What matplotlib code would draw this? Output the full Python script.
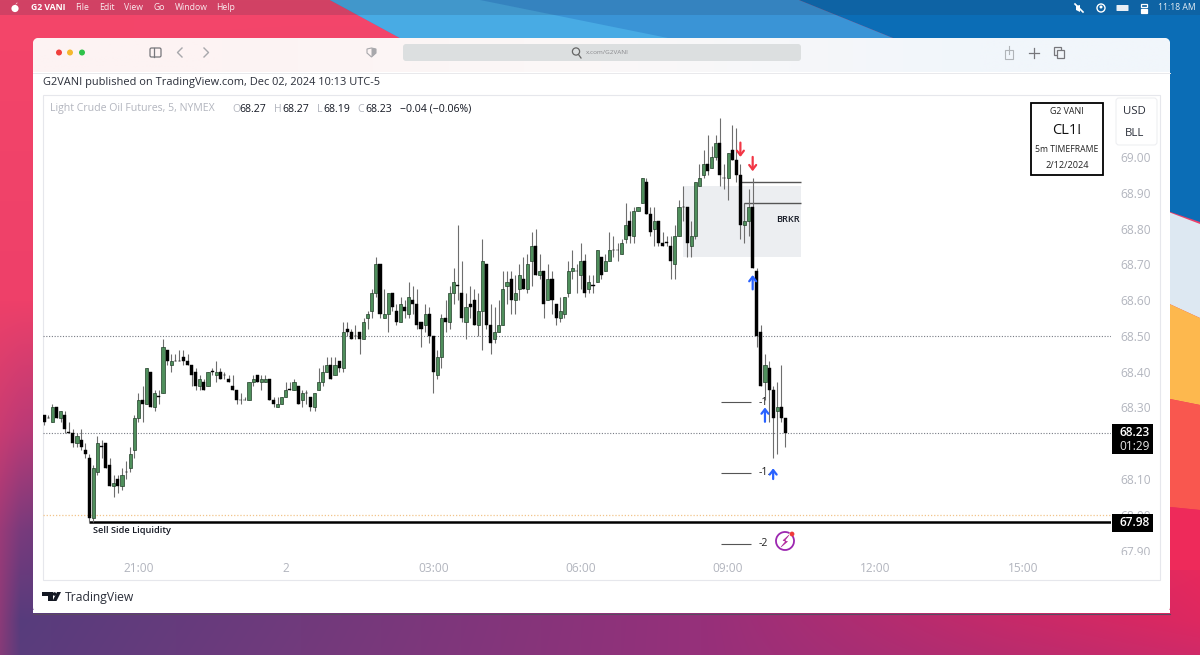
import numpy as np
import matplotlib
matplotlib.use('Agg')
import matplotlib.pyplot as plt
from matplotlib.patches import Rectangle, FancyBboxPatch, Circle, Polygon, Arc
from matplotlib.transforms import Bbox

plt.rcParams['font.family'] = ['Open Sans', 'DejaVu Sans']

# 1. Chart data, 5 minute candles
opens = [68.28,68.27,68.26,68.30,68.27,68.28,68.23,68.23,68.20,68.21,
         68.18,68.16,67.99,68.12,68.19,68.20,68.14,68.08,68.10,68.08,
         68.12,68.13,68.18,68.27,68.32,68.31,68.40,68.30,68.33,68.34,
         68.46,68.42,68.43,68.43,68.44,68.43,68.42,68.40,68.36,68.37,
         68.36,68.40,68.39,68.40,68.39,68.38,68.36,68.35,68.32,68.32,
         68.32,68.37,68.39,68.37,68.37,68.38,68.32,68.30,68.31,68.33,
         68.35,68.35,68.36,68.32,68.34,68.33,68.30,68.35,68.37,68.40,
         68.42,68.39,68.43,68.41,68.52,68.51,68.50,68.51,68.49,68.55,
         68.57,68.62,68.70,68.55,68.56,68.62,68.57,68.54,68.58,68.56,
         68.60,68.59,68.54,68.53,68.56,68.50,68.39,68.44,68.55,68.54,
         68.62,68.64,68.62,68.54,68.59,68.60,68.53,68.57,68.70,68.53,
         68.49,68.51,68.53,68.64,68.66,68.60,68.63,68.66,68.63,68.71,
         68.75,68.67,68.68,68.60,68.66,68.59,68.55,68.56,68.62,68.68,
         68.68,68.67,68.71,68.63,68.64,68.65,68.72,68.68,68.71,68.74,
         68.74,68.73,68.77,68.82,68.78,68.85,68.87,68.93,68.84,68.80,
         68.82,68.76,68.76,68.75,68.70,68.78,68.86,68.86,68.75,68.78,
         68.92,68.95,68.98,68.97,69.00,69.04,68.94,68.94,69.02,68.99,
         68.95,68.81,68.82,68.86,68.68,68.51,68.37,68.41,68.35,68.29,68.30,68.27]
highs = [68.28,68.28,68.31,68.30,68.29,68.29,68.26,68.24,68.23,68.24,
         68.20,68.17,68.14,68.22,68.21,68.20,68.16,68.11,68.11,68.13,
         68.15,68.19,68.28,68.34,68.36,68.41,68.40,68.35,68.35,68.49,
         68.46,68.45,68.45,68.46,68.46,68.45,68.42,68.41,68.39,68.38,
         68.40,68.41,68.43,68.41,68.40,68.39,68.39,68.35,68.34,68.33,
         68.37,68.39,68.39,68.39,68.39,68.38,68.33,68.33,68.33,68.37,
         68.37,68.38,68.36,68.35,68.35,68.33,68.34,68.41,68.42,68.44,
         68.44,68.44,68.43,68.54,68.54,68.52,68.53,68.51,68.55,68.57,
         68.63,68.72,68.70,68.63,68.62,68.62,68.59,68.61,68.60,68.65,
         68.64,68.63,68.54,68.59,68.58,68.50,68.46,68.56,68.60,68.64,
         68.69,68.81,68.71,68.62,68.64,68.63,68.62,68.77,68.70,68.59,
         68.58,68.60,68.68,68.68,68.68,68.67,68.70,68.72,68.73,68.79,
         68.80,68.73,68.68,68.70,68.68,68.59,68.61,68.61,68.71,68.74,
         68.70,68.76,68.73,68.67,68.67,68.74,68.72,68.73,68.79,68.78,
         68.76,68.77,68.87,68.85,68.86,68.86,68.94,68.94,68.86,68.86,
         68.82,68.79,68.78,68.78,68.81,68.88,68.92,68.86,68.82,68.93,
         68.98,69.02,69.06,69.03,69.06,69.11,68.98,69.01,69.09,69.08,
         68.98,68.87,68.91,68.94,68.69,68.53,68.45,68.43,68.36,68.37,68.42,68.27]
lows = [68.25,68.27,68.26,68.27,68.26,68.23,68.23,68.19,68.19,68.18,
        68.16,67.98,67.98,68.11,68.16,68.13,68.08,68.05,68.06,68.07,
        68.10,68.12,68.16,68.26,68.26,68.31,68.30,68.29,68.31,68.34,
        68.42,68.40,68.43,68.43,68.42,68.42,68.36,68.35,68.35,68.35,
        68.36,68.39,68.37,68.38,68.38,68.37,68.35,68.31,68.31,68.32,
        68.32,68.36,68.37,68.35,68.37,68.32,68.30,68.30,68.31,68.33,
        68.35,68.35,68.31,68.30,68.31,68.29,68.29,68.35,68.36,68.40,
        68.38,68.39,68.40,68.40,68.50,68.49,68.49,68.45,68.49,68.52,
        68.55,68.61,68.55,68.55,68.51,68.57,68.53,68.54,68.55,68.55,
        68.56,68.52,68.47,68.51,68.48,68.34,68.38,68.41,68.51,68.52,
        68.59,68.60,68.54,68.49,68.55,68.53,68.50,68.46,68.52,68.45,
        68.48,68.51,68.53,68.59,68.56,68.56,68.60,68.63,68.62,68.64,
        68.67,68.66,68.55,68.60,68.56,68.53,68.54,68.55,68.61,68.66,
        68.62,68.63,68.61,68.62,68.62,68.65,68.66,68.68,68.71,68.72,
        68.71,68.73,68.76,68.76,68.76,68.85,68.87,68.84,68.78,68.75,
        68.75,68.75,68.75,68.66,68.66,68.78,68.82,68.72,68.72,68.77,
        68.92,68.94,68.95,68.97,68.99,68.92,68.91,68.88,68.99,68.93,
        68.77,68.76,68.78,68.69,68.47,68.36,68.32,68.26,68.16,68.17,68.26,68.19]
closes = [68.26,68.27,68.30,68.27,68.29,68.24,68.23,68.20,68.22,68.19,
          68.17,67.99,68.13,68.20,68.19,68.13,68.08,68.09,68.08,68.11,
          68.12,68.17,68.27,68.32,68.31,68.41,68.30,68.34,68.33,68.47,
          68.43,68.43,68.43,68.43,68.43,68.42,68.39,68.36,68.38,68.35,
          68.40,68.40,68.40,68.38,68.39,68.37,68.35,68.32,68.32,68.32,
          68.37,68.38,68.37,68.38,68.38,68.32,68.31,68.31,68.33,68.35,
          68.35,68.37,68.31,68.34,68.34,68.30,68.34,68.37,68.40,68.42,
          68.38,68.42,68.41,68.51,68.51,68.49,68.50,68.49,68.54,68.56,
          68.62,68.70,68.56,68.56,68.62,68.58,68.54,68.59,68.57,68.61,
          68.59,68.53,68.52,68.56,68.50,68.40,68.44,68.55,68.54,68.62,
          68.65,68.64,68.55,68.58,68.58,68.53,68.57,68.71,68.53,68.48,
          68.51,68.53,68.63,68.65,68.60,68.62,68.67,68.63,68.70,68.75,
          68.67,68.68,68.59,68.66,68.60,68.55,68.57,68.61,68.68,68.69,
          68.68,68.71,68.62,68.65,68.64,68.74,68.67,68.71,68.74,68.74,
          68.74,68.76,68.81,68.78,68.85,68.86,68.94,68.84,68.79,68.82,
          68.76,68.75,68.76,68.71,68.78,68.86,68.86,68.76,68.78,68.93,
          68.94,68.98,68.96,69.00,69.04,68.95,68.94,69.01,68.99,68.95,
          68.81,68.82,68.86,68.69,68.50,68.36,68.42,68.35,68.27,68.30,68.27,68.23]

time_ticks = [23, 59, 95, 131, 167, 203, 239]
time_labels = ['21:00', '2', '03:00', '06:00', '09:00', '12:00', '15:00']
price_ticks = [69.0, 68.9, 68.8, 68.7, 68.6, 68.5, 68.4, 68.3, 68.2, 68.1, 68.0, 67.9]

dotted_levels = [68.50, 68.23]
liquidity_level = 67.98
round_level = 68.00
zone_low, zone_high = 68.72, 68.92
zone_start, zone_end = 156, 184.8
break_levels = [68.93, 68.87]
break_starts = [170, 171]
fib_levels = [68.314, 68.117, 67.919]
fib_labels = ['-1', '-1.', '-2']

# arrows as candle index, tail price, tip price
red_arrows = [(170, 69.04, 69.00), (173, 69.00, 68.96)]
blue_arrows = [(173, 68.63, 68.67), (176, 68.26, 68.30), (178, 68.10, 68.13)]

GREY = '#b2b5be'

fig = plt.figure(figsize=(12, 6.55), dpi=100)

# 2. Screen layer, one unit is one pixel
bg = fig.add_axes([0, 0, 1, 1])
bg.set_axis_off()

def hex_rgb(h):
    return [int(h[i:i + 2], 16) / 255 for i in (1, 3, 5)]

# wallpaper colours at a coarse grid, blended across the screen
wall_x = [0, 20, 50, 300, 700, 1000, 1200]
wall_y = [0, 300, 430, 530, 620, 655]
wall_rows = [
    ['#f4466a', '#f4466a', '#f4466a', '#f4466a', '#f4466a', '#f4466a', '#f4466a'],
    ['#ee4069', '#ee4069', '#ee4069', '#e83e6c', '#e83e6c', '#e83e6c', '#e83e6c'],
    ['#c83c72', '#bc3a76', '#b03a78', '#b03a78', '#c03a72', '#d83468', '#e83060'],
    ['#9a3a78', '#7a3a7c', '#6c3a7c', '#7a3a7c', '#a0347a', '#d02c68', '#ee2a5a'],
    ['#8a3a78', '#573c7c', '#5a3c7c', '#703a7c', '#96307a', '#c42a6a', '#de2860'],
    ['#843a78', '#5a3c7c', '#5c3c7c', '#723a7c', '#96307a', '#b82c6e', '#d02a68'],
]
ys, xs = np.arange(655), np.arange(1200)
grid = np.array([[hex_rgb(c) for c in row] for row in wall_rows])
wall = np.zeros((655, 1200, 3))
for c in range(3):
    across = np.array([np.interp(xs, wall_x, grid[r, :, c]) for r in range(len(wall_y))])
    for col in range(1200):
        wall[:, col, c] = np.interp(ys, wall_y, across[:, col])
bg.imshow(wall, extent=(0, 1200, 655, 0), aspect='auto', zorder=0)
bg.set_xlim(0, 1200)
bg.set_ylim(655, 0)

# big sur waves on the top right and right edge
bg.add_patch(Polygon([(330, 0), (799, 0), (893, 38), (400, 38)], fc='#3a94d6', ec='none', zorder=1))
bg.add_patch(Polygon([(330, 0), (480, 0), (668, 38), (400, 38)], fc='#48abe4', ec='none', zorder=1))
bg.add_patch(Polygon([(799, 0), (1200, 0), (1200, 222), (1150, 205), (893, 38)], fc='#0b6db6', ec='none', zorder=1))
bg.add_patch(Polygon([(1150, 205), (1200, 224), (1200, 318), (1150, 295)], fc='#dde8f2', ec='none', zorder=1))
bg.add_patch(Polygon([(1150, 295), (1200, 318), (1200, 405), (1150, 395)], fc='#fdb84e', ec='none', zorder=1))
bg.add_patch(Polygon([(1150, 395), (1200, 405), (1200, 510), (1150, 505)], fc='#f9574f', ec='none', zorder=1))
bg.add_patch(Polygon([(1150, 505), (1200, 510), (1200, 570), (1150, 570)], fc='#ee2a5a', ec='none', zorder=1))

# menu bar
bg.add_patch(Rectangle((0, 0), 1200, 15, fc='#20304a', alpha=0.16, ec='none', zorder=2))
bg.add_patch(Circle((15, 8.5), 3.6, fc='white', ec='none', zorder=3))
bg.add_patch(Polygon([(15, 5), (17, 2.5), (17.6, 3)], fc='white', ec='none', zorder=3))
bg.text(31, 8, 'G2 VANI', color='white', fontsize=6.2, weight='bold', va='center', zorder=3)
for mx, label in zip([75, 99, 124, 153, 175, 216], ['File', 'Edit', 'View', 'Go', 'Window', 'Help']):
    bg.text(mx, 8, label, color='white', fontsize=6.2, va='center', alpha=0.9, zorder=3)
bg.text(1158, 8, '11:18 AM', color='white', fontsize=6.2, va='center', alpha=0.9, zorder=3)
bg.plot([1075, 1083], [4, 12], color='white', lw=1.2, zorder=3)
bg.add_patch(Polygon([(1076, 6), (1080, 5), (1080, 12), (1076, 10)], fc='white', ec='none', zorder=3))
bg.add_patch(Circle((1101, 8), 4, fc='none', ec='white', lw=1, zorder=3))
bg.add_patch(Circle((1101, 7), 1.5, fc='white', ec='none', zorder=3))
bg.add_patch(FancyBboxPatch((1117, 5.5), 11, 5, boxstyle='round,pad=0.5', fc='#e8eef4', ec='none', zorder=3))
bg.add_patch(Rectangle((1141, 3.5), 6, 3.5, fc='none', ec='white', lw=0.9, zorder=3))
bg.add_patch(Rectangle((1141, 9), 6, 3.5, fc='white', ec='white', lw=0.9, zorder=3))

# browser window
window = FancyBboxPatch((33, 38), 1137, 575, boxstyle='round,pad=0,rounding_size=6', fc='white', ec='none', zorder=4)
window.set_clip_on(False)
bg.add_patch(window)
bg.add_patch(Rectangle((33, 610), 1137, 3, fc='white', ec='none', zorder=4))
bg.plot([33, 1170], [613.5, 613.5], color='#5a4a60', lw=0.8, zorder=4)
bar_colour = np.array([[hex_rgb('#fdf3f3'), hex_rgb('#fbf8f8'), hex_rgb('#f1f6fb')]])
bar = bg.imshow(bar_colour, extent=(33, 1170, 72, 38), aspect='auto', interpolation='bilinear', zorder=4.1)
bar.set_clip_path(window)
bg.set_xlim(0, 1200)
bg.set_ylim(655, 0)
bg.plot([33, 1170], [72.5, 72.5], color='#e9e9ec', lw=0.7, zorder=4.2)

for lx, colour in zip([59, 70, 82], ['#f0403c', '#f5b82e', '#2fc24a']):
    bg.add_patch(Circle((lx, 52.5), 3, fc=colour, ec='none', zorder=5))
bg.add_patch(FancyBboxPatch((150, 48), 11, 9, boxstyle='round,pad=0,rounding_size=1.5', fc='none', ec='#77777c', lw=0.9, zorder=5))
bg.plot([154, 154], [48, 57], color='#77777c', lw=0.9, zorder=5)
bg.plot([182, 177.5, 182], [48, 52.5, 57], color='#a8a8ac', lw=1, zorder=5)
bg.plot([204, 208.5, 204], [48, 52.5, 57], color='#a8a8ac', lw=1, zorder=5)
# shield, half filled
bg.add_patch(Polygon([(367, 49), (371.5, 48), (376, 49), (376, 53), (371.5, 57), (367, 53)], fc='none', ec='#a8a8ac', lw=0.8, zorder=5))
bg.add_patch(Polygon([(371.5, 48), (376, 49), (376, 53), (371.5, 57)], fc='#a8a8ac', ec='none', zorder=5))
bg.add_patch(FancyBboxPatch((403, 44), 398, 17, boxstyle='round,pad=0,rounding_size=3', fc='#dcdfe0', ec='none', zorder=5))
bg.add_patch(Circle((576, 51.5), 3.6, fc='none', ec='#666', lw=0.9, zorder=5.1))
bg.plot([578.5, 581], [54.5, 58], color='#666', lw=0.9, zorder=5.1)
bg.text(586, 52.5, 'x.com/G2VANI', color='#8a8a8e', fontsize=4.6, va='center', zorder=5.1)
bg.add_patch(Rectangle((1005, 50), 8, 9, fc='none', ec='#b0b4b8', lw=0.8, zorder=5))
bg.plot([1009, 1009], [46, 54], color='#b0b4b8', lw=0.8, zorder=5)
bg.plot([1029, 1039], [52.5, 52.5], color='#77777c', lw=0.9, zorder=5)
bg.plot([1034, 1034], [47.5, 57.5], color='#77777c', lw=0.9, zorder=5)
bg.add_patch(Rectangle((1054, 47), 7, 8, fc='#f2f6fa', ec='#77777c', lw=0.9, zorder=5))
bg.add_patch(Rectangle((1057, 50), 7, 8, fc='#f2f6fa', ec='#77777c', lw=0.9, zorder=5))

bg.text(43, 83, 'G2VANI published on TradingView.com, Dec 02, 2024 10:13 UTC-5', color='#2a2e39',
        fontsize=7.95, va='center', zorder=5)
bg.add_patch(Rectangle((43, 95), 1117, 485, fc='none', ec='#e6e7ec', lw=0.8, zorder=5))

# legend line above the candles
bg.text(50, 109, 'Light Crude Oil Futures, 5, NYMEX', color=GREY, fontsize=7.6, va='center', zorder=5)
legend_x = [232, 239, 274, 282, 317, 323, 357, 365, 400]
legend_text = ['O', '68.27', 'H', '68.27', 'L', '68.19', 'C', '68.23', '\u22120.04 (\u22120.06%)']
for lx, part in zip(legend_x, legend_text):
    bg.text(lx, 109, part, color=GREY if len(part) == 1 else '#131722', fontsize=7.6, va='center', zorder=5)

# footer logo
bg.add_patch(Polygon([(42, 592), (53, 592), (53, 601), (48, 601), (48, 596), (42, 596)], fc='#131722', ec='none', zorder=5))
bg.add_patch(Circle((54.5, 594), 1.8, fc='#131722', ec='none', zorder=5))
bg.add_patch(Polygon([(57, 592), (61, 592), (56.5, 601), (52.5, 601)], fc='#131722', ec='none', zorder=5))
bg.text(65, 597, 'TradingView', color='#2a2e39', fontsize=8.7, va='center', zorder=5)

# 3. Chart, scales set so the candles land on the price and time axes
ax = fig.add_axes([43 / 1200, 1 - 556 / 655, 1068 / 1200, 461 / 655], zorder=2)
ax.patch.set_alpha(0)
ax.set_xlim(-0.3, 260.5)
ax.set_ylim(67.885, 69.173)
for side in ax.spines.values():
    side.set_visible(False)

ax.add_patch(Rectangle((zone_start, zone_low), zone_end - zone_start, zone_high - zone_low, fc='#eceef1', ec='none', zorder=1))
ax.hlines(dotted_levels, -0.3, 260.5, color='#777b84', lw=0.8, linestyles=(0, (1, 1.5)), zorder=2)
ax.axhline(round_level, color='#f2c48a', lw=0.9, ls=(0, (1, 1.5)), zorder=2)
ax.hlines(liquidity_level, 11, 260.5, color='black', lw=1.8, zorder=3)
ax.hlines(break_levels, break_starts, zone_end, color='#555555', lw=1.0, zorder=3)
ax.vlines(break_starts[1], 68.81, break_levels[1], color='#555555', lw=0.8, zorder=3)

o, h, l, c = map(np.array, (opens, highs, lows, closes))
idx = np.arange(len(o))
is_up = (c > o)
ax.vlines(idx, l, h, color='#6e6e6e', lw=0.8, zorder=4)
ax.bar(idx[~is_up], np.maximum(np.abs(c - o)[~is_up], 0.001), bottom=np.minimum(o, c)[~is_up],
       width=0.76, color='black', edgecolor='black', lw=0.3, zorder=5)
ax.bar(idx[is_up], (c - o)[is_up], bottom=o[is_up], width=0.76,
       color='#4f8f5c', edgecolor='#23402a', lw=0.5, zorder=5)

ax.hlines(fib_levels, 165.3, 172.5, color='#555555', lw=0.8, zorder=3)
for level, label in zip(fib_levels, fib_labels):
    ax.text(174.5, level, label, color='#222222', fontsize=7.6, va='center', zorder=6)

for arrows, colour in ((red_arrows, '#f23645'), (blue_arrows, '#2962ff')):
    for pos, tail, tip in arrows:
        ax.annotate('', xy=(pos, tip), xytext=(pos, tail), zorder=7,
                    arrowprops=dict(arrowstyle='->,head_width=0.25,head_length=0.32', color=colour, lw=1.6,
                                    shrinkA=0, shrinkB=0))

ax.text(11.8, 67.957, 'Sell Side Liquidity', color='#131722', fontsize=6.6, weight='semibold', va='center', zorder=6)
ax.text(178.7, 68.824, 'BRKR', color='#131722', fontsize=6.6, weight='semibold', va='center', ha='left', zorder=6)

ax.yaxis.tick_right()
ax.set_xticks(time_ticks)
ax.set_xticklabels(time_labels, color=GREY, fontsize=8.6)
ax.set_yticks(price_ticks)
ax.set_yticklabels(['%.2f' % p for p in price_ticks], color=GREY, fontsize=8.6)
ax.tick_params(axis='x', length=0, pad=4)
ax.tick_params(axis='y', length=0, pad=7)
# the last price label is cut by the time scale
clip = Bbox.from_extents(0, 100, 1200, 655)
for label in ax.get_yticklabels():
    label.set_clip_box(clip)
    label.set_clip_on(True)

# 4. Boxes on top of the chart, one unit is one pixel
top = fig.add_axes([0, 0, 1, 1], zorder=3)
top.set_axis_off()
top.patch.set_alpha(0)
top.set_xlim(0, 1200)
top.set_ylim(655, 0)

top.add_patch(Rectangle((1031, 103), 72, 72, fc='white', ec='black', lw=1.3))
top.text(1067, 112, 'G2 VANI', ha='center', va='center', fontsize=6.4, color='#222222')
top.text(1067, 131, 'CL1!', ha='center', va='center', fontsize=10.5, color='#111111')
top.text(1067, 149, '5m TIMEFRAME', ha='center', va='center', fontsize=6.2, color='#222222')
top.text(1067, 165, '2/12/2024', ha='center', va='center', fontsize=6.6, color='#222222')

top.add_patch(FancyBboxPatch((1116, 98), 41, 47, boxstyle='round,pad=0,rounding_size=3', fc='white', ec='#eeeff2', lw=0.8))
top.text(1134.5, 111, 'USD', ha='center', va='center', fontsize=8.2, color='#2a2e39')
top.text(1134.5, 134, 'BLL', ha='center', va='center', fontsize=8.2, color='#2a2e39')

top.add_patch(Rectangle((1112, 424), 41, 30, fc='black', ec='none'))
top.text(1134.5, 432, '%.2f' % closes[-1], color='white', ha='center', va='center', fontsize=8.6, weight='semibold')
top.text(1134.5, 446, '01:29', color='#e8e8e8', ha='center', va='center', fontsize=8.6)
top.add_patch(Rectangle((1112, 514), 41, 18, fc='black', ec='none'))
top.text(1134.5, 522.5, '%.2f' % liquidity_level, color='white', ha='center', va='center', fontsize=8.6, weight='semibold')

top.add_patch(Arc((785, 541), 18, 18, theta1=-35, theta2=300, color='#9c27b0', lw=1.3))
top.add_patch(Polygon([(789, 535), (783, 540.5), (786, 541), (781, 547), (787.5, 541.5), (784.5, 541)], fc='#b0279c', ec='#b0279c', lw=0.4))
top.add_patch(Circle((792, 534), 2.4, fc='#ef3a3a', ec='none'))

fig.savefig('out.png', dpi=100)
